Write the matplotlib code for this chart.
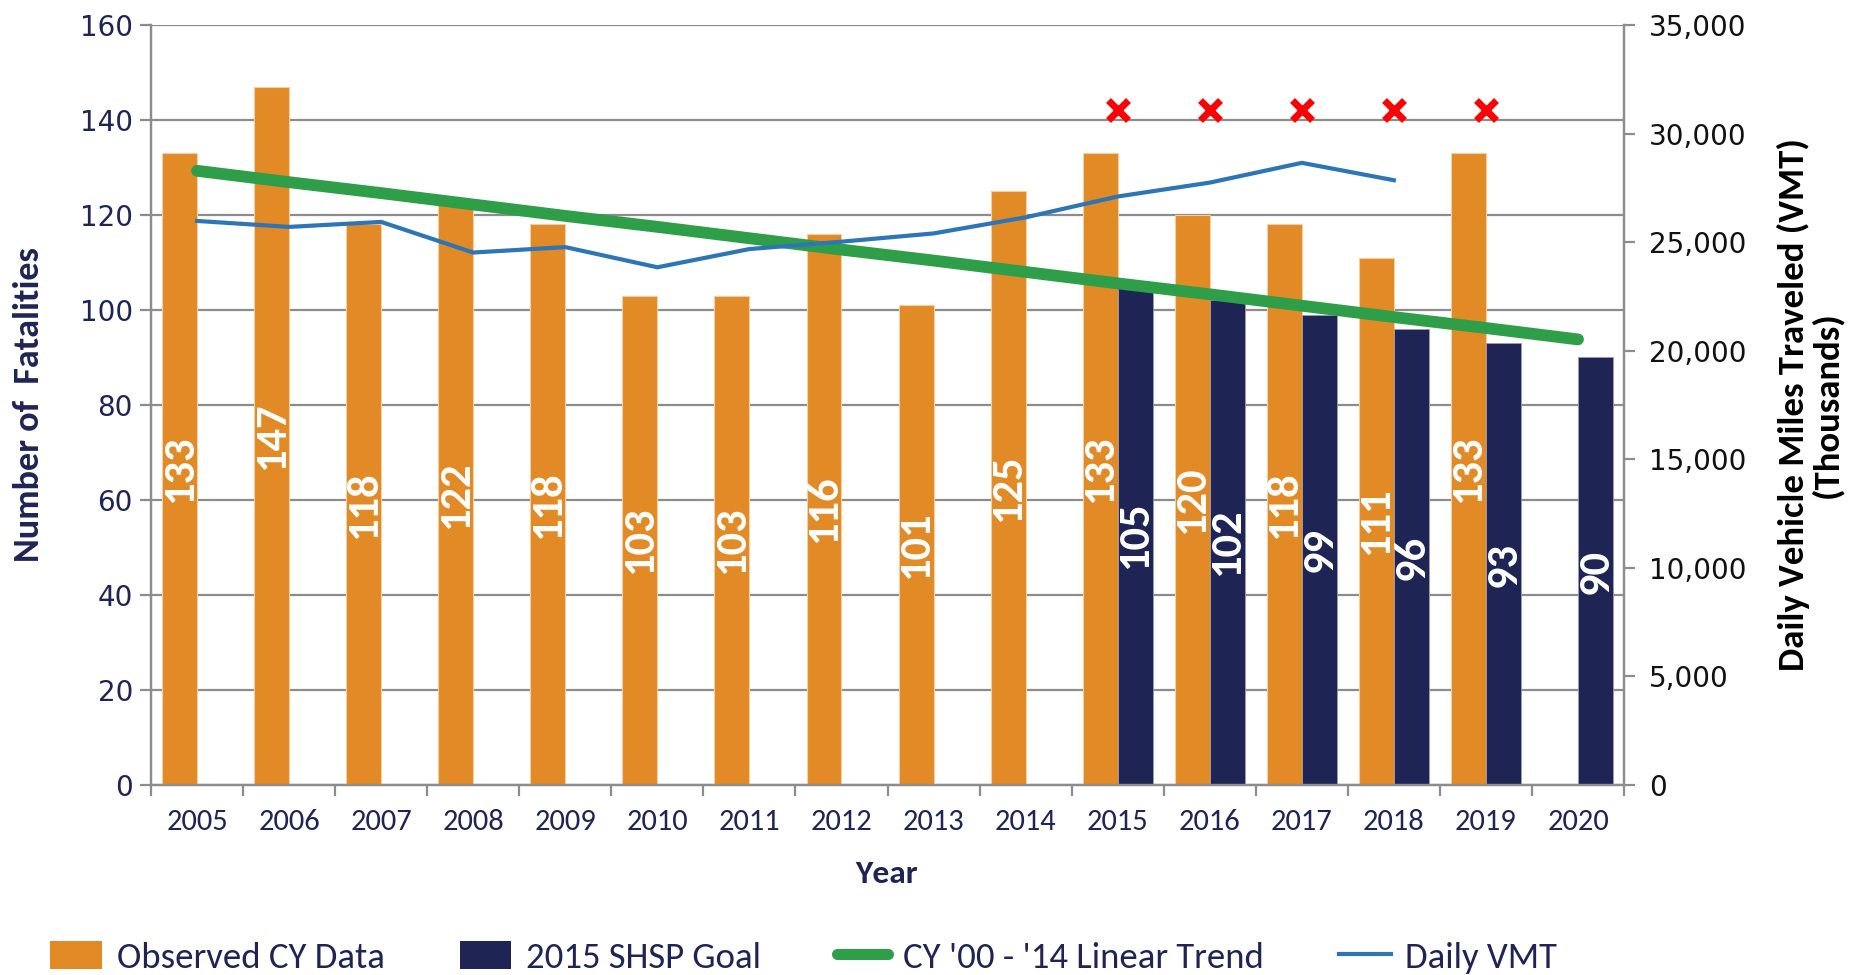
import matplotlib
matplotlib.use("Agg")
import matplotlib.pyplot as plt
from matplotlib.patches import Patch
from matplotlib.lines import Line2D
from matplotlib.ticker import FuncFormatter, MultipleLocator
import numpy as np

years = [str(y) for y in range(2005, 2021)]

# observed fatalities (None = no bar)
observed = [133, 147, 118, 122, 118, 103, 103, 116, 101, 125, 133, 120, 118, 111, 133, None]
# 2015 SHSP goal
shsp_goal = [None] * 10 + [105, 102, 99, 96, 93, 90]
# CY '00 - '14 linear trend (left axis)
trend = [129.3, 126.9, 124.6, 122.2, 119.8, 117.5, 115.1, 112.7, 110.4, 108.0,
         105.6, 103.3, 100.9, 98.5, 96.2, 93.8]
# daily VMT in thousands (right axis), ends at 2018
vmt = [25975, 25700, 25930, 24520, 24770, 23840, 24680, 25020, 25400, 26140,
       27100, 27740, 28650, 27850]
# red x markers above 2015-2019
flag_years = ["2015", "2016", "2017", "2018", "2019"]
flag_level = [142, 142, 142, 142, 142]

ORANGE = "#E28A26"
NAVY = "#1E2454"
GREEN = "#2E9E48"
BLUE = "#2E75B6"
GRID = "#8C8C8C"

NARROW = ["Carlito", "IBM Plex Sans Condensed", "DejaVu Sans"]
WIDE = ["DejaVu Sans"]


def main():
    fig = plt.figure(figsize=(18.62, 9.75), dpi=100)
    ax = fig.add_axes([0.0811, 0.1949, 0.8722 - 0.0811, 0.9744 - 0.1949])
    ax2 = ax.twinx()

    x = np.arange(len(years))
    w = 0.38

    # bars
    obs_x = [xi for xi, v in zip(x, observed) if v is not None]
    obs_v = [v for v in observed if v is not None]
    goal_x = [xi for xi, v in zip(x, shsp_goal) if v is not None]
    goal_v = [v for v in shsp_goal if v is not None]

    ax.bar(np.array(obs_x) - w / 2, obs_v, width=w, color=ORANGE,
           edgecolor="#F3CFA5", linewidth=0.8, zorder=2)
    ax.bar(np.array(goal_x) + w / 2, goal_v, width=w, color=NAVY,
           edgecolor="#9A9CB0", linewidth=0.6, zorder=2)

    label_font = dict(family=NARROW, fontsize=32,
                      fontweight="bold", color="white", rotation=90,
                      ha="center", va="center", zorder=5)
    for xi, v in zip(obs_x, obs_v):
        ax.text(xi - w / 2, v / 2, str(v), **label_font)
    for xi, v in zip(goal_x, goal_v):
        ax.text(xi + w / 2, v / 2, str(v), **label_font)

    # trend line
    ax.plot(x, trend, color=GREEN, lw=8.5, solid_capstyle="round", zorder=4)

    # red flags
    fx = [years.index(y) for y in flag_years]
    ax.plot(fx, flag_level, linestyle="none", marker="x", color="red",
            markersize=14, markeredgewidth=5, zorder=6, clip_on=False)

    # VMT line
    ax2.plot(x[:len(vmt)], vmt, color=BLUE, lw=3, zorder=4)

    # left axis
    ax.set_xlim(-0.5, len(years) - 0.5)
    ax.set_ylim(0, 160)
    ax.yaxis.set_major_locator(MultipleLocator(20))
    ax.yaxis.grid(True, color=GRID, lw=1.6)
    ax.set_axisbelow(True)
    ax.set_xticks(x)
    ax.set_xticklabels(years)
    ax.set_xticks(np.arange(-0.5, len(years)), minor=True)
    ax.tick_params(axis="x", which="major", length=0, pad=17, labelsize=22,
                   labelcolor=NAVY)
    ax.tick_params(axis="x", which="minor", length=8, width=1.6, color=GRID)
    ax.tick_params(axis="y", length=8, width=1.6, color=GRID, labelsize=20,
                   labelcolor=NAVY, pad=5)
    for lab in ax.get_xticklabels():
        lab.set_family(NARROW)
    for lab in ax.get_yticklabels():
        lab.set_family(WIDE)

    ax.spines["top"].set_visible(False)
    ax2.spines["top"].set_visible(False)
    for side in ["left", "bottom", "right"]:
        ax.spines[side].set_color(GRID)
        ax.spines[side].set_linewidth(1.6)
        ax2.spines[side].set_color(GRID)
        ax2.spines[side].set_linewidth(1.6)

    ax.set_ylabel("Number of  Fatalities", family=NARROW, fontsize=26,
                  fontweight="bold", color=NAVY)
    ax.yaxis.set_label_coords(-0.072, 0.5)
    ax.set_xlabel("Year", family=NARROW, fontsize=24, fontweight="bold",
                  color=NAVY)
    ax.xaxis.set_label_coords(0.499, -0.099)

    # right axis
    ax2.set_ylim(0, 35000)
    ax2.yaxis.set_major_locator(MultipleLocator(5000))
    ax2.yaxis.set_major_formatter(FuncFormatter(lambda v, p: f"{int(v):,}"))
    ax2.tick_params(axis="y", length=8, width=1.6, color=GRID, labelsize=20,
                    labelcolor="#111111", pad=10)
    for lab in ax2.get_yticklabels():
        lab.set_family(WIDE)
    ax2.set_ylabel("Daily Vehicle Miles Traveled (VMT)\n(Thousands)",
                   family=NARROW, fontsize=26.5, fontweight="bold",
                   color="black", linespacing=1.0)
    ax2.yaxis.set_label_coords(1.104, 0.5)

    # legend
    handles = [
        Patch(facecolor=ORANGE, edgecolor="none"),
        Patch(facecolor=NAVY, edgecolor="none"),
        Line2D([], [], color=GREEN, lw=8, solid_capstyle="round"),
        Line2D([], [], color=BLUE, lw=3),
    ]
    labels = ["Observed CY Data", "2015 SHSP Goal", "CY '00 - '14 Linear Trend",
              "Daily VMT"]
    fig.legend(handles, labels, loc="center left", bbox_to_anchor=(0.027, 0.018),
               ncol=4, frameon=False, borderpad=0, borderaxespad=0,
               handlelength=1.4, handleheight=0.8, handletextpad=0.4,
               columnspacing=2.05, labelcolor=NAVY,
               prop={"family": NARROW, "size": 26.5})

    fig.savefig("out.png", dpi=100)


if __name__ == "__main__":
    main()
